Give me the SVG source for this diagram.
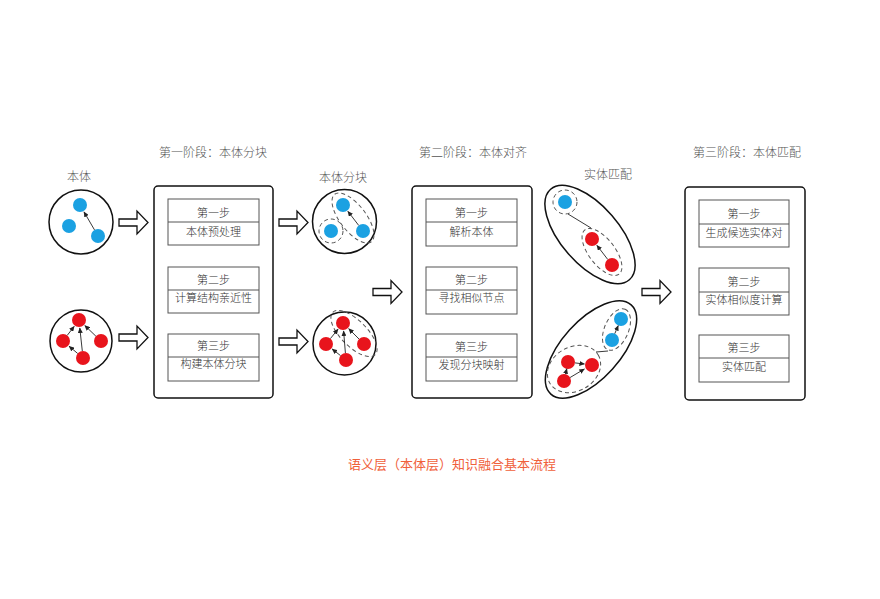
<svg xmlns="http://www.w3.org/2000/svg" width="880" height="599" viewBox="0 0 880 599">
<style>
text{font-family:"Noto Sans CJK SC","Noto Sans",sans-serif;text-anchor:middle;font-weight:300}
.title{font-size:12px;fill:#555}
.step{font-size:11px;fill:#333}
.foot{font-size:13px;fill:#f0603a;font-weight:400}
.panel{fill:#fff;stroke:#111;stroke-width:1.5}
.row{fill:#fff;stroke:#555;stroke-width:1}
.ring{fill:#fff;stroke:#111;stroke-width:1.5}
.dash{fill:none;stroke:#555;stroke-width:1;stroke-dasharray:4 3}
.blue{fill:#1ba1e2}
.red{fill:#e8141c}
.link{stroke:#222;stroke-width:0.9;fill:none}
.arr{stroke:#222;stroke-width:0.9;fill:none;marker-end:url(#ah)}
.block{fill:#fff;stroke:#111;stroke-width:1.3}
</style>
<defs>
<marker id="ah" markerUnits="userSpaceOnUse" markerWidth="6" markerHeight="5" refX="5" refY="2.5" orient="auto">
<path d="M0,0 L5.5,2.5 L0,5 Z" fill="#222"/>
</marker>
<path id="blk" d="M0,-3.5 H18 V-11.5 L29,0 L18,11.5 V3.5 H0 Z"/>
</defs>
<rect width="880" height="599" fill="#fff"/>

<g id="connectors">
<use href="#blk" class="block" transform="translate(119,222.5)"/>
<use href="#blk" class="block" transform="translate(119,337.5)"/>
<use href="#blk" class="block" transform="translate(279,222.5)"/>
<use href="#blk" class="block" transform="translate(279,341.5)"/>
<use href="#blk" class="block" transform="translate(373,292)"/>
<use href="#blk" class="block" transform="translate(642,292)"/>
</g>

<g id="ontology-blue">
<text class="title" x="79" y="181">本体</text>
<circle class="ring" cx="81" cy="222" r="32"/>
<circle class="blue" cx="80" cy="205" r="7"/>
<circle class="blue" cx="69" cy="226" r="7"/>
<circle class="blue" cx="98" cy="236" r="7"/>
<line class="arr" x1="94.5" y1="229.9" x2="84" y2="211.9"/>
</g>

<g id="ontology-red">
<circle class="ring" cx="81" cy="341" r="31"/>
<circle class="red" cx="79" cy="320" r="7"/>
<circle class="red" cx="63" cy="341" r="7"/>
<circle class="red" cx="101" cy="341" r="7"/>
<circle class="red" cx="83" cy="358" r="7"/>
<line class="arr" x1="67.2" y1="335.4" x2="74.2" y2="326.4"/>
<line class="arr" x1="95.9" y1="336.2" x2="84.8" y2="325.5"/>
<line class="arr" x1="82.3" y1="351" x2="79.8" y2="328"/>
<line class="arr" x1="77.7" y1="353.5" x2="69.1" y2="346.2"/>
</g>

<g id="stage1">
<text class="title" x="213" y="157">第一阶段：本体分块</text>
<rect class="panel" x="154" y="186" width="119" height="212" rx="4"/>
<rect class="row" x="168" y="199" width="91" height="46"/>
<line class="row" x1="168" y1="222" x2="259" y2="222"/>
<text class="step" x="213.5" y="217">第一步</text>
<text class="step" x="213.5" y="236">本体预处理</text>
<rect class="row" x="168" y="267" width="91" height="46"/>
<line class="row" x1="168" y1="290" x2="259" y2="290"/>
<text class="step" x="213.5" y="284">第二步</text>
<text class="step" x="213.5" y="302">计算结构亲近性</text>
<rect class="row" x="168" y="334" width="91" height="47"/>
<line class="row" x1="168" y1="357" x2="259" y2="357"/>
<text class="step" x="213.5" y="350">第三步</text>
<text class="step" x="213.5" y="368">构建本体分块</text>
</g>

<g id="blocks-blue">
<text class="title" x="343" y="182">本体分块</text>
<circle class="ring" cx="344.5" cy="221.5" r="32"/>
<circle class="dash" cx="331" cy="231" r="12"/>
<ellipse class="dash" cx="0" cy="0" rx="30" ry="13" transform="translate(353,218) rotate(52.4)"/>
<circle class="blue" cx="343" cy="205" r="7"/>
<circle class="blue" cx="331" cy="231" r="7"/>
<circle class="blue" cx="363" cy="231" r="7"/>
<line class="arr" x1="358.7" y1="225.4" x2="347.9" y2="211.3"/>
</g>

<g id="blocks-red">
<circle class="ring" cx="344.5" cy="343.5" r="31.5"/>
<ellipse class="dash" cx="0" cy="0" rx="30" ry="13" transform="translate(354,333.5) rotate(45)"/>
<circle class="red" cx="343" cy="323" r="7"/>
<circle class="red" cx="326" cy="344" r="7"/>
<circle class="red" cx="364" cy="344" r="7"/>
<circle class="red" cx="346" cy="360" r="7"/>
<line class="arr" x1="330.4" y1="338.6" x2="338" y2="329.2"/>
<line class="arr" x1="345.4" y1="353" x2="343.6" y2="331"/>
<line class="arr" x1="359" y1="339" x2="348.7" y2="328.7"/>
<line class="arr" x1="340.5" y1="355.6" x2="332.2" y2="349"/>
</g>

<g id="stage2">
<text class="title" x="473" y="157">第二阶段：本体对齐</text>
<rect class="panel" x="412" y="186" width="120" height="212" rx="4"/>
<rect class="row" x="426" y="199" width="91" height="47"/>
<line class="row" x1="426" y1="222" x2="517" y2="222"/>
<text class="step" x="471.5" y="217">第一步</text>
<text class="step" x="471.5" y="236">解析本体</text>
<rect class="row" x="426" y="267" width="91" height="47"/>
<line class="row" x1="426" y1="290" x2="517" y2="290"/>
<text class="step" x="471.5" y="284">第二步</text>
<text class="step" x="471.5" y="302">寻找相似节点</text>
<rect class="row" x="426" y="334" width="91" height="47"/>
<line class="row" x1="426" y1="357" x2="517" y2="357"/>
<text class="step" x="471.5" y="351">第三步</text>
<text class="step" x="471.5" y="369">发现分块映射</text>
</g>

<g id="match-top">
<text class="title" x="608" y="179">实体匹配</text>
<ellipse class="ring" cx="0" cy="0" rx="60" ry="29" transform="translate(590,234.5) rotate(49)"/>
<circle class="dash" cx="565" cy="202" r="12"/>
<ellipse class="dash" cx="0" cy="0" rx="28" ry="13" transform="translate(602,252) rotate(52.4)"/>
<line class="link" x1="568" y1="214" x2="591" y2="228"/>
<circle class="blue" cx="565" cy="202" r="7"/>
<circle class="red" cx="592" cy="239" r="7"/>
<circle class="red" cx="612" cy="265" r="7"/>
<line class="arr" x1="607.7" y1="259.4" x2="596.9" y2="245.3"/>
</g>

<g id="match-bottom">
<ellipse class="ring" cx="0" cy="0" rx="60" ry="29" transform="translate(591,349.5) rotate(-48)"/>
<ellipse class="dash" cx="0" cy="0" rx="22" ry="12" transform="translate(616.5,329.5) rotate(-66.8)"/>
<ellipse class="dash" cx="0" cy="0" rx="28" ry="22" transform="translate(574,369) rotate(-30)"/>
<line class="link" x1="596" y1="352" x2="608" y2="351"/>
<circle class="blue" cx="621" cy="319" r="7"/>
<circle class="blue" cx="612" cy="340" r="7"/>
<circle class="red" cx="568" cy="362" r="7"/>
<circle class="red" cx="592" cy="365" r="7"/>
<circle class="red" cx="564" cy="381" r="7"/>
<line class="arr" x1="614.8" y1="333.6" x2="618.2" y2="325.6"/>
<line class="arr" x1="565.4" y1="374.2" x2="566.8" y2="368.8"/>
<line class="arr" x1="575" y1="362.9" x2="584.4" y2="364"/>
<line class="arr" x1="570.1" y1="377.5" x2="584.4" y2="369"/>
</g>

<g id="stage3">
<text class="title" x="747" y="157">第三阶段：本体匹配</text>
<rect class="panel" x="685" y="187" width="120" height="213" rx="4"/>
<rect class="row" x="699" y="200" width="90" height="47"/>
<line class="row" x1="699" y1="224" x2="789" y2="224"/>
<text class="step" x="744" y="218">第一步</text>
<text class="step" x="744" y="237">生成候选实体对</text>
<rect class="row" x="699" y="268" width="90" height="47"/>
<line class="row" x1="699" y1="292" x2="789" y2="292"/>
<text class="step" x="744" y="286">第二步</text>
<text class="step" x="744" y="304">实体相似度计算</text>
<rect class="row" x="699" y="335" width="90" height="47"/>
<line class="row" x1="699" y1="358" x2="789" y2="358"/>
<text class="step" x="744" y="352">第三步</text>
<text class="step" x="744" y="371">实体匹配</text>
</g>

<text class="foot" x="452" y="469">语义层（本体层）知识融合基本流程</text>
</svg>
